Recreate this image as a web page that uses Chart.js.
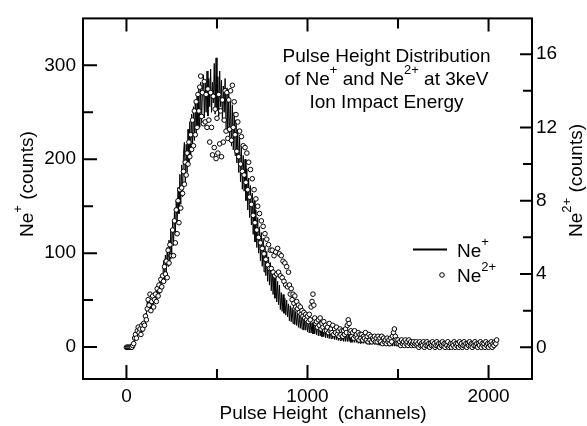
<!DOCTYPE html>
<html>
<head>
<meta charset="utf-8">
<script src="https://cdn.jsdelivr.net/npm/chart.js@4.4.0/dist/chart.umd.min.js"></script>
<style>
  html, body { margin: 0; padding: 0; background: #fff; }
  #wrap { width: 587px; height: 426px; }
</style>
</head>
<body>
<div id="wrap"><canvas id="phd" width="587" height="426"></canvas></div>
<script>
// pulse height channels (every 5th channel)
const channels = [
  0, 5, 10, 15, 20, 25, 30, 35, 40, 45,
  50, 55, 60, 65, 70, 75, 80, 85, 90, 95,
  100, 105, 110, 115, 120, 125, 130, 135, 140, 145,
  150, 155, 160, 165, 170, 175, 180, 185, 190, 195,
  200, 205, 210, 215, 220, 225, 230, 235, 240, 245,
  250, 255, 260, 265, 270, 275, 280, 285, 290, 295,
  300, 305, 310, 315, 320, 325, 330, 335, 340, 345,
  350, 355, 360, 365, 370, 375, 380, 385, 390, 395,
  400, 405, 410, 415, 420, 425, 430, 435, 440, 445,
  450, 455, 460, 465, 470, 475, 480, 485, 490, 495,
  500, 505, 510, 515, 520, 525, 530, 535, 540, 545,
  550, 555, 560, 565, 570, 575, 580, 585, 590, 595,
  600, 605, 610, 615, 620, 625, 630, 635, 640, 645,
  650, 655, 660, 665, 670, 675, 680, 685, 690, 695,
  700, 705, 710, 715, 720, 725, 730, 735, 740, 745,
  750, 755, 760, 765, 770, 775, 780, 785, 790, 795,
  800, 805, 810, 815, 820, 825, 830, 835, 840, 845,
  850, 855, 860, 865, 870, 875, 880, 885, 890, 895,
  900, 905, 910, 915, 920, 925, 930, 935, 940, 945,
  950, 955, 960, 965, 970, 975, 980, 985, 990, 995,
  1000, 1005, 1010, 1015, 1020, 1025, 1030, 1035, 1040, 1045,
  1050, 1055, 1060, 1065, 1070, 1075, 1080, 1085, 1090, 1095,
  1100, 1105, 1110, 1115, 1120, 1125, 1130, 1135, 1140, 1145,
  1150, 1155, 1160, 1165, 1170, 1175, 1180, 1185, 1190, 1195,
  1200, 1205, 1210, 1215, 1220, 1225, 1230, 1235, 1240, 1245,
  1250, 1255, 1260, 1265, 1270, 1275, 1280, 1285, 1290, 1295,
  1300, 1305, 1310, 1315, 1320, 1325, 1330, 1335, 1340, 1345,
  1350, 1355, 1360, 1365, 1370, 1375, 1380, 1385, 1390, 1395,
  1400, 1405, 1410, 1415, 1420, 1425, 1430, 1435, 1440, 1445,
  1450, 1455, 1460, 1465, 1470, 1475, 1480, 1485, 1490, 1495,
  1500, 1505, 1510, 1515, 1520, 1525, 1530, 1535, 1540, 1545,
  1550, 1555, 1560, 1565, 1570, 1575, 1580, 1585, 1590, 1595,
  1600, 1605, 1610, 1615, 1620, 1625, 1630, 1635, 1640, 1645,
  1650, 1655, 1660, 1665, 1670, 1675, 1680, 1685, 1690, 1695,
  1700, 1705, 1710, 1715, 1720, 1725, 1730, 1735, 1740, 1745,
  1750, 1755, 1760, 1765, 1770, 1775, 1780, 1785, 1790, 1795,
  1800, 1805, 1810, 1815, 1820, 1825, 1830, 1835, 1840, 1845,
  1850, 1855, 1860, 1865, 1870, 1875, 1880, 1885, 1890, 1895,
  1900, 1905, 1910, 1915, 1920, 1925, 1930, 1935, 1940, 1945,
  1950, 1955, 1960, 1965, 1970, 1975, 1980, 1985, 1990, 1995,
  2000, 2005, 2010, 2015, 2020, 2025, 2030, 2035, 2040, 2045
];

// Ne+ counts (left axis)
const nePlus = [
  0, 0, 0, 0, 0, 0, 0, 0, 3, 10,
  8, 16, 12, 19, 13, 21, 15, 20, 16, 25,
  24, 36, 33, 48, 41, 52, 38, 50, 40, 53,
  44, 55, 47, 61, 52, 66, 57, 70, 60, 78,
  68, 92, 72, 98, 78, 106, 86, 114, 92, 124,
  100, 134, 108, 144, 120, 156, 132, 170, 142, 184,
  152, 194, 160, 206, 218, 174, 216, 186, 232, 196,
  240, 204, 248, 212, 256, 220, 262, 226, 268, 234,
  276, 234, 282, 240, 274, 290, 244, 280, 250, 294,
  246, 286, 256, 296, 250, 282, 260, 302, 248, 308,
  252, 288, 246, 294, 256, 284, 240, 278, 250, 286,
  232, 276, 228, 270, 220, 262, 214, 258, 210, 250,
  204, 242, 196, 232, 186, 224, 176, 214, 168, 204,
  166, 200, 156, 190, 146, 180, 138, 172, 130, 164,
  120, 156, 112, 146, 106, 138, 100, 128, 92, 122,
  86, 116, 80, 108, 76, 102, 70, 96, 66, 90,
  60, 86, 56, 80, 52, 74, 48, 70, 45, 66,
  40, 58, 38, 56, 36, 52, 34, 50, 32, 46,
  28, 44, 27, 42, 25, 40, 24, 38, 23, 36,
  21, 34, 20, 32, 19, 31, 18, 30, 18, 29,
  16, 28, 15, 27, 15, 26, 14, 25, 14, 24,
  13, 24, 12, 23, 12, 22, 11, 21, 11, 21,
  10, 20, 10, 19, 9, 19, 9, 18, 9, 18,
  8, 17, 8, 17, 7, 16, 7, 16, 7, 15,
  6, 15, 6, 14, 6, 14, 6, 13, 5, 13,
  5, 13, 5, 12, 5, 12, 4, 11, 4, 11,
  4, 11, 4, 11, 4, 10, 3, 10, 3, 10,
  3, 10, 3, 9, 3, 9, 3, 9, 2, 8,
  2, 8, 2, 8, 2, 8, 2, 7, 2, 7,
  1, 7, 1, 7, 1, 7, 1, 6, 1, 6,
  1, 6, 0, 6, 1, 6, 0, 5, 1, 5,
  0, 5, 1, 5, 0, 5, 1, 5, 0, 4,
  1, 3, 1, 3, 0, 3, 1, 3, 0, 3,
  1, 3, 0, 3, 1, 2, 0, 3, 1, 2,
  0, 3, 1, 2, 0, 3, 0, 2, 1, 3,
  0, 2, 1, 3, 0, 2, 0, 2, 1, 3,
  0, 2, 0, 2, 1, 3, 0, 2, 0, 2,
  1, 2, 0, 3, 0, 2, 1, 2, 0, 2,
  0, 2, 1, 2, 0, 3, 0, 2, 0, 2,
  1, 2, 0, 2, 0, 2, 1, 3, 0, 2,
  0, 2, 1, 2, 0, 2, 0, 3, 1, 2
];

// Ne2+ counts (right axis)
const neTwoPlus = [
  0, 0, 0, 0, 0, 0, 0, 0.1, 0.2, 0.5,
  0.7, 0.5, 0.9, 1.1, 0.8, 1.0, 0.7, 1.2, 1.0, 1.3,
  1.2, 1.7, 1.5, 2.1, 2.6, 2.3, 2.9, 2.0, 2.5, 2.8,
  2.2, 2.6, 2.9, 2.5, 3.2, 2.8, 3.4, 3.1, 3.7, 3.3,
  3.9, 3.6, 4.4, 4.0, 4.7, 3.8, 5.3, 4.6, 5.6, 5.0,
  5.0, 6.4, 5.0, 6.9, 5.7, 7.5, 6.2, 8.0, 6.8, 8.6,
  7.6, 8.7, 8.4, 9.6, 8.9, 10.1, 9.4, 10.6, 10.0, 11.2,
  10.4, 11.6, 10.8, 12.4, 11.0, 12.9, 11.6, 13.4, 12.0, 13.8,
  12.9, 14.2, 14.8, 12.6, 13.9, 12.2, 14.5, 12.3, 13.8, 12.0,
  14.1, 12.4, 11.2, 13.9, 12.0, 10.5, 13.7, 10.9, 13.0, 10.3,
  12.5, 10.6, 13.8, 11.1, 12.9, 10.4, 13.5, 11.2, 12.4, 14.0,
  11.8, 13.9, 11.4, 13.5, 11.9, 14.0, 11.3, 14.3, 12.0, 13.4,
  11.6, 12.7, 10.7, 12.3, 10.4, 11.8, 10.0, 11.5, 9.6, 11.0,
  9.4, 10.9, 9.0, 10.6, 8.6, 10.1, 8.2, 9.7, 7.8, 9.2,
  7.2, 8.6, 6.8, 8.1, 6.4, 7.7, 6.0, 7.3, 5.7, 6.9,
  5.4, 6.6, 5.1, 6.2, 4.8, 5.9, 4.5, 5.6, 4.3, 5.3,
  4.3, 5.3, 4.1, 5.0, 3.9, 5.2, 4.0, 5.4, 4.1, 5.1,
  3.9, 5.0, 3.8, 4.7, 3.6, 4.6, 3.4, 4.4, 3.3, 4.1,
  3.4, 2.9, 3.2, 2.6, 2.9, 2.4, 2.8, 2.2, 2.5, 2.1,
  2.3, 1.9, 2.2, 1.8, 2.0, 1.7, 1.9, 1.6, 1.8, 1.5,
  1.7, 1.4, 1.8, 1.5, 2.2, 2.5, 2.9, 2.3, 1.6, 1.3,
  1.4, 1.1, 1.5, 1.2, 1.6, 1.0, 1.3, 1.1, 1.4, 0.9,
  1.2, 0.9, 1.1, 0.8, 1.3, 0.9, 1.0, 0.8, 1.2, 0.7,
  1.0, 0.8, 1.1, 0.7, 0.9, 0.6, 1.0, 0.7, 0.9, 0.6,
  0.9, 0.7, 1.0, 0.8, 1.2, 1.5, 1.3, 0.8, 0.9, 0.6,
  0.8, 0.5, 0.9, 0.6, 0.7, 0.5, 0.8, 0.4, 0.7, 0.5,
  0.7, 0.4, 0.6, 0.5, 0.8, 0.4, 0.6, 0.3, 0.7, 0.4,
  0.6, 0.3, 0.5, 0.4, 0.6, 0.3, 0.5, 0.3, 0.6, 0.4,
  0.5, 0.3, 0.6, 0.2, 0.5, 0.3, 0.4, 0.2, 0.5, 0.3,
  0.4, 0.2, 0.5, 0.3, 0.6, 0.8, 1.0, 0.6, 0.4, 0.2,
  0.4, 0.2, 0.3, 0.1, 0.4, 0.2, 0.3, 0.1, 0.4, 0.2,
  0.3, 0.1, 0.4, 0.2, 0.3, 0.1, 0.2, 0.3, 0.1, 0.2,
  0.3, 0.1, 0.2, 0.0, 0.3, 0.1, 0.2, 0.1, 0.3, 0.0,
  0.2, 0.1, 0.3, 0.1, 0.2, 0.0, 0.2, 0.1, 0.3, 0.1,
  0.2, 0.0, 0.1, 0.3, 0.1, 0.2, 0.0, 0.2, 0.1, 0.3,
  0.1, 0.2, 0.0, 0.2, 0.1, 0.3, 0.0, 0.1, 0.2, 0.0,
  0.2, 0.1, 0.3, 0.0, 0.2, 0.1, 0.2, 0.0, 0.3, 0.1,
  0.2, 0.0, 0.1, 0.3, 0.1, 0.2, 0.0, 0.2, 0.1, 0.3,
  0.1, 0.2, 0.0, 0.2, 0.1, 0.3, 0.1, 0.2, 0.0, 0.2,
  0.1, 0.3, 0.0, 0.2, 0.1, 0.2, 0.0, 0.3, 0.1, 0.2,
  0.0, 0.2, 0.1, 0.3, 0.0, 0.2, 0.1, 0.3, 0.2, 0.4
];

const xTicks = [0, 1000, 2000];
const xMinorTicks = [500, 1500];
const leftTicks = [0, 100, 200, 300];
const leftMinorTicks = [50, 150, 250];
const rightTicks = [0, 4, 8, 12, 16];
const rightMinorTicks = [2, 6, 10, 14];

const FONT = '"Liberation Sans", Arial, Helvetica, sans-serif';
const tickFont = { family: FONT, size: 19 };

function pts(vals) {
  return channels.map((c, i) => ({ x: c, y: vals[i] }));
}

// text with superscript parts, e.g. Ne^2+
function richText(ctx, parts, x, y, align) {
  const big = '19px ' + FONT, small = '13px ' + FONT;
  let w = 0;
  parts.forEach(p => { ctx.font = p.sup ? small : big; w += ctx.measureText(p.t).width; });
  let cx = align === 'center' ? x - w / 2 : x;
  parts.forEach(p => {
    ctx.font = p.sup ? small : big;
    ctx.fillText(p.t, cx, p.sup ? y - 11 : y);
    cx += ctx.measureText(p.t).width;
  });
}

const frame = {
  id: 'frame',
  afterDraw(chart) {
    const { ctx, chartArea: a, scales: { x, y, y2 } } = chart;
    ctx.save();
    ctx.strokeStyle = '#000';
    ctx.lineWidth = 2;
    ctx.strokeRect(a.left, a.top, a.right - a.left, a.bottom - a.top);
    ctx.beginPath();
    const seg = (x0, y0, x1, y1) => { ctx.moveTo(x0, y0); ctx.lineTo(x1, y1); };
    xTicks.forEach(v => { const p = x.getPixelForValue(v); seg(p, a.bottom, p, a.bottom - 14); seg(p, a.top, p, a.top + 13); });
    xMinorTicks.forEach(v => { const p = x.getPixelForValue(v); seg(p, a.bottom, p, a.bottom - 10); seg(p, a.top, p, a.top + 10); });
    leftTicks.forEach(v => { const p = y.getPixelForValue(v); seg(a.left, p, a.left + 14, p); });
    leftMinorTicks.forEach(v => { const p = y.getPixelForValue(v); seg(a.left, p, a.left + 10, p); });
    rightTicks.forEach(v => { const p = y2.getPixelForValue(v); seg(a.right, p, a.right - 12, p); });
    rightMinorTicks.forEach(v => { const p = y2.getPixelForValue(v); seg(a.right, p, a.right - 9, p); });
    ctx.stroke();

    ctx.fillStyle = '#000';
    ctx.textBaseline = 'alphabetic';
    ctx.textAlign = 'left';

    // annotation
    richText(ctx, [{ t: 'Pulse Height Distribution' }], 386.5, 62, 'center');
    richText(ctx, [{ t: 'of Ne' }, { t: '+', sup: true }, { t: ' and Ne' }, { t: '2+', sup: true }, { t: ' at 3keV' }], 386.5, 84.5, 'center');
    richText(ctx, [{ t: 'Ion Impact Energy' }], 386.5, 107.5, 'center');

    // legend
    ctx.lineWidth = 2;
    ctx.beginPath(); ctx.moveTo(413, 249.5); ctx.lineTo(447, 249.5); ctx.stroke();
    richText(ctx, [{ t: 'Ne' }, { t: '+', sup: true }], 457, 257, 'left');
    ctx.lineWidth = 1;
    ctx.fillStyle = '#fff';
    ctx.beginPath(); ctx.arc(442, 275, 2.3, 0, Math.PI * 2); ctx.fill(); ctx.stroke();
    ctx.fillStyle = '#000';
    richText(ctx, [{ t: 'Ne' }, { t: '2+', sup: true }], 457, 282, 'left');

    // axis titles
    richText(ctx, [{ t: 'Pulse Height  (channels)' }], 323, 419, 'center');
    ctx.save();
    ctx.translate(33, 237);
    ctx.rotate(-Math.PI / 2);
    richText(ctx, [{ t: 'Ne' }, { t: '+', sup: true }, { t: ' (counts)' }], 0, 0, 'left');
    ctx.restore();
    ctx.save();
    ctx.translate(582, 237);
    ctx.rotate(-Math.PI / 2);
    richText(ctx, [{ t: 'Ne' }, { t: '2+', sup: true }, { t: ' (counts)' }], 0, 0, 'left');
    ctx.restore();

    ctx.restore();
  }
};

new Chart(document.getElementById('phd'), {
  type: 'scatter',
  data: {
    datasets: [
      { label: 'Ne2+', data: pts(neTwoPlus), yAxisID: 'y2', showLine: false, order: 0,
        pointRadius: 2.3, pointBorderWidth: 1, pointBackgroundColor: '#fff', pointBorderColor: '#000' },
      { label: 'Ne+', data: pts(nePlus), yAxisID: 'y', showLine: true, order: 1,
        borderColor: '#000', borderWidth: 1, pointRadius: 0, tension: 0 }
    ]
  },
  options: {
    responsive: false,
    animation: false,
    events: [],
    devicePixelRatio: 1,
    layout: { padding: { top: 15, left: 0, right: 0, bottom: 0 } },
    plugins: { legend: { display: false }, tooltip: { enabled: false } },
    scales: {
      x: {
        type: 'linear', position: 'bottom', min: -240, max: 2240,
        grid: { display: false, drawTicks: false }, border: { display: false },
        ticks: { font: tickFont, color: '#000', padding: 6, maxRotation: 0, autoSkip: false, callback: v => String(v) },
        afterBuildTicks: s => { s.ticks = xTicks.map(v => ({ value: v })); },
        afterFit: s => { s.height = 47; }
      },
      y: {
        type: 'linear', position: 'left', min: -34, max: 350,
        grid: { display: false, drawTicks: false }, border: { display: false },
        ticks: { font: tickFont, color: '#000', padding: 7, autoSkip: false, callback: v => String(v) },
        afterBuildTicks: s => { s.ticks = leftTicks.map(v => ({ value: v })); },
        afterFit: s => { s.width = 83; }
      },
      y2: {
        type: 'linear', position: 'right', min: -1.73, max: 17.95,
        grid: { display: false, drawTicks: false }, border: { display: false },
        ticks: { font: tickFont, color: '#000', padding: 4, autoSkip: false, callback: v => String(v) },
        afterBuildTicks: s => { s.ticks = rightTicks.map(v => ({ value: v })); },
        afterFit: s => { s.width = 55; }
      }
    }
  },
  plugins: [frame]
});
</script>
</body>
</html>
